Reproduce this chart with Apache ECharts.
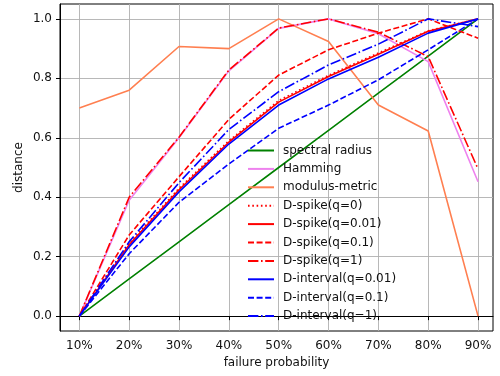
<!DOCTYPE html>
<html>
<head>
<meta charset="utf-8">
<script src="https://cdn.jsdelivr.net/npm/echarts@6/dist/echarts.min.js"></script>
<style>
  html, body { margin: 0; padding: 0; background: #fff; }
  #chart { width: 500px; height: 376px; }
</style>
</head>
<body>
<div id="chart"></div>
<script>
const failureProb = [10, 20, 30, 40, 50, 60, 70, 80, 90]
const yTicks = [0, 0.2, 0.4, 0.6, 0.8, 1.0]

const spectralRadius = [0, 0.125, 0.25, 0.375, 0.5, 0.625, 0.75, 0.875, 1.0]
const hamming = [0, 0.39, 0.6, 0.825, 0.968, 1.0, 0.95, 0.856, 0.452]
const modulusMetric = [0.70, 0.76, 0.907, 0.90, 1.0, 0.924, 0.71, 0.623, 0.0]
const spikeQ0 = [0, 0.245, 0.43, 0.59, 0.725, 0.81, 0.885, 0.96, 1.0]
const spikeQ001 = [0, 0.24, 0.425, 0.585, 0.72, 0.806, 0.881, 0.958, 1.0]
const spikeQ01 = [0, 0.273, 0.469, 0.662, 0.811, 0.896, 0.952, 1.0, 0.935]
const spikeQ1 = [0, 0.40, 0.602, 0.828, 0.969, 1.0, 0.955, 0.873, 0.495]
const intervalQ001 = [0, 0.233, 0.418, 0.579, 0.71, 0.798, 0.871, 0.952, 1.0]
const intervalQ01 = [0, 0.21, 0.383, 0.512, 0.632, 0.71, 0.795, 0.896, 1.0]
const intervalQ1 = [0, 0.25, 0.449, 0.628, 0.755, 0.845, 0.915, 1.0, 0.974]

const pair = arr => arr.map((v, i) => [failureProb[i], v])

const LW = 1.6
const DASHED = [6, 2.6]
const DASHDOT = [10.4, 2.6, 1.6, 2.6]
const DOTTED = [1.6, 2.7]
const TXT = '#111'

function line(name, data, color, dash) {
  return {
    name, type: 'line', data: pair(data), symbol: 'none',
    lineStyle: { color, width: LW, type: dash || 'solid' },
    itemStyle: { color },
    emphasis: { disabled: true }
  }
}

const chart = echarts.init(document.getElementById('chart'))
chart.setOption({
  animation: false,
  textStyle: { fontFamily: 'DejaVu Sans' },
  grid: { left: 60, right: 7, top: 4, bottom: 45, show: true, borderColor: '#000', borderWidth: 1, backgroundColor: 'transparent' },
  legend: {
    orient: 'vertical', left: 247, top: 143.5, padding: 0,
    itemWidth: 26, itemHeight: 14, itemGap: 4.4,
    itemStyle: { opacity: 0 },
    textStyle: { fontSize: 12, lineHeight: 14, color: TXT, padding: [0, 0, 0, 4] }
  },
  xAxis: {
    type: 'value', min: 6.12, max: 93,
    name: 'failure probability', nameLocation: 'middle', nameGap: 26,
    nameTextStyle: { fontSize: 12, color: TXT },
    axisLine: { show: true, lineStyle: { color: '#000', width: 1 } },
    axisTick: { show: true, length: 4, customValues: failureProb, lineStyle: { color: '#000' } },
    axisLabel: { customValues: failureProb, fontSize: 12, color: TXT, margin: 9, formatter: v => v + '%' },
    splitLine: { show: true, lineStyle: { color: '#b0b0b0', width: 0.9 } }
  },
  yAxis: {
    type: 'value', min: -0.05, max: 1.05,
    name: 'distance', nameLocation: 'middle', nameGap: 35, nameRotate: 90, nameMoveOverlap: false,
    nameTextStyle: { fontSize: 12, color: TXT },
    axisLine: { show: true, lineStyle: { color: '#000', width: 1 } },
    axisTick: { show: true, length: 4, customValues: yTicks, lineStyle: { color: '#000' } },
    axisLabel: { customValues: yTicks, fontSize: 12, color: TXT, margin: 8, formatter: v => v.toFixed(1) },
    splitLine: { show: true, lineStyle: { color: '#b0b0b0', width: 0.9 } }
  },
  series: [
    line('spectral radius', spectralRadius, '#008000'),
    line('Hamming', hamming, '#ee82ee'),
    line('modulus-metric', modulusMetric, '#ff7f50'),
    line('D-spike(q=0)', spikeQ0, '#ff0000', DOTTED),
    line('D-spike(q=0.01)', spikeQ001, '#ff0000'),
    line('D-spike(q=0.1)', spikeQ01, '#ff0000', DASHED),
    line('D-spike(q=1)', spikeQ1, '#ff0000', DASHDOT),
    line('D-interval(q=0.01)', intervalQ001, '#0000ff'),
    line('D-interval(q=0.1)', intervalQ01, '#0000ff', DASHED),
    line('D-interval(q=1)', intervalQ1, '#0000ff', DASHDOT)
  ]
})
</script>
</body>
</html>
